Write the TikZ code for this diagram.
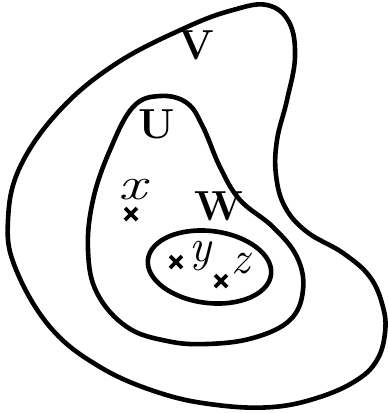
\documentclass[tikz,border=0pt]{standalone}
\usepackage{fontspec}
\usetikzlibrary{calc}
\begin{document}
\begin{tikzpicture}[x=1pt,y=-1pt,
  region/.style={line width=4.6pt, line join=round},
  setlabel/.style={font=\fontsize{42}{42}\selectfont\bfseries, inner sep=0pt},
  ptlabel/.style={font=\fontsize{46}{46}\selectfont\itshape, inner sep=0pt},
  crossmark/.style={line width=3.6pt}]
\useasboundingbox (0,0) rectangle (388,413);
% outer region V
\draw[region] plot[smooth cycle, tension=0.65] coordinates {
 (267,5) (289,22) (295,57) (287,100) (277,140) (276,175) (285,207) (307,232)
 (343,253) (370,277) (383,307) (385,333) (377,360) (357,380) (320,397)
 (273,407) (217,405) (160,393) (100,367) (50,327) (15,267) (8,220)
 (20,167) (60,110) (117,63) (187,27) (233,10)};
% middle region U
\draw[region] plot[smooth cycle, tension=0.65] coordinates {
 (160,96) (133,107) (110,150) (93,200) (88,250) (97,293) (127,327)
 (167,341) (207,344) (253,338) (290,320) (303,290) (297,257) (273,227)
 (240,200) (220,167) (203,127) (187,103)};
% inner ellipse
\draw[region, rotate around={-7:(209.5,267)}] (209.5,267) ellipse [x radius=62, y radius=36];
% labels
\node[setlabel] (V) at (196,45) {V};
\node[setlabel] (U) at (157,124) {U};
\node[setlabel] (W) at (219,206) {W};
\node[ptlabel, xscale=1.35] (x) at (132,190) {x};
\node[ptlabel] (y) at (200,256) {y};
\node[ptlabel] (z) at (241,264) {z};
% crosses
\foreach \n/\px/\py in {cx/131/214, cy/176/262, cz/221/281}{
  \coordinate (\n) at (\px,\py);
  \draw[crossmark] ($(\n)+(-6,-6)$) -- ($(\n)+(6,6)$);
  \draw[crossmark] ($(\n)+(-6,6)$) -- ($(\n)+(6,-6)$);
}
\end{tikzpicture}
\end{document}
